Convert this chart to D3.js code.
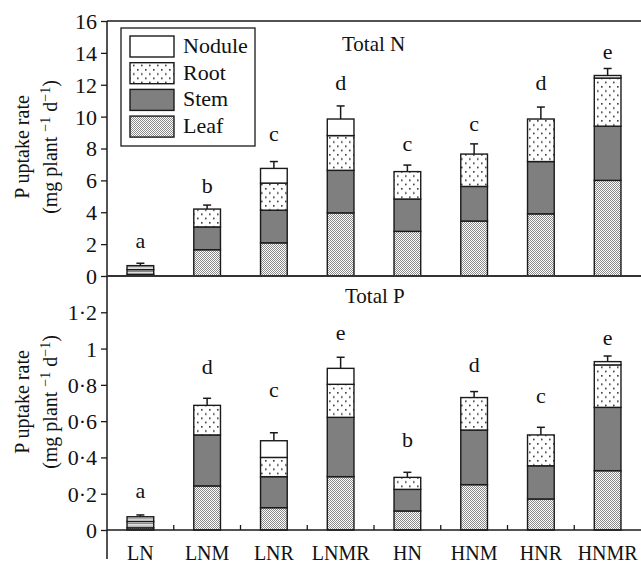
<!DOCTYPE html>
<html>
<head>
<meta charset="utf-8">
<script src="https://cdn.jsdelivr.net/npm/d3@7"></script>
<style>
  html, body { margin: 0; padding: 0; background: #fff; }
  svg { display: block; font-family: "Liberation Serif", "Times New Roman", serif; }
</style>
</head>
<body>
<svg id="chart" width="641" height="565"></svg>
<script>
// ---------------- data ----------------
const categories = ["LN", "LNM", "LNR", "LNMR", "HN", "HNM", "HNR", "HNMR"];
const parts = ["Leaf", "Stem", "Root", "Nodule"];
const legendOrder = ["Nodule", "Root", "Stem", "Leaf"];

// Total N uptake (mg plant-1 d-1)
const nLeaf   = [0.10, 1.65, 2.08, 3.96, 2.80, 3.45, 3.90, 6.00];
const nStem   = [0.30, 1.43, 2.05, 2.67, 2.03, 2.17, 3.28, 3.40];
const nRoot   = [0.25, 1.12, 1.70, 2.18, 1.72, 2.03, 2.67, 3.02];
const nNodule = [0.00, 0.00, 0.92, 1.04, 0.00, 0.00, 0.00, 0.16];
const nErrTop = [0.80, 4.45, 7.18, 10.67, 6.96, 8.29, 10.60, 13.02];
const nLetters = ["a", "b", "c", "d", "c", "c", "d", "e"];
const nLetterAt = [1.75, 5.2, 8.45, 11.65, 7.85, 9.1, 11.65, 13.6];

// Total P uptake (mg plant-1 d-1)
const pLeaf   = [0.012, 0.243, 0.123, 0.294, 0.105, 0.250, 0.171, 0.327];
const pStem   = [0.035, 0.281, 0.171, 0.327, 0.119, 0.301, 0.183, 0.349];
const pRoot   = [0.026, 0.163, 0.106, 0.182, 0.066, 0.179, 0.170, 0.234];
const pNodule = [0.000, 0.000, 0.092, 0.088, 0.000, 0.000, 0.000, 0.018];
const pErrTop = [0.083, 0.726, 0.536, 0.952, 0.318, 0.763, 0.566, 0.959];
const pLetters = ["a", "d", "c", "e", "b", "d", "c", "e"];
const pLetterAt = [0.175, 0.86, 0.731, 1.047, 0.459, 0.873, 0.698, 1.02];

const nTicks = [0, 2, 4, 6, 8, 10, 12, 14, 16];
const pTicks = [0, 0.2, 0.4, 0.6, 0.8, 1, 1.2];

// ---------------- layout ----------------
const svg = d3.select("#chart");
const left = 107, right = 641;
const topY = 21, midY = 276, botY = 530;

const x = d3.scaleBand().domain(categories).range([left, right])
  .paddingInner(0.6).paddingOuter(0.3);
const yN = d3.scaleLinear().domain([0, 16]).range([midY, topY]);
const yP = d3.scaleLinear().domain([0, 1.4]).range([botY, midY]);

// ---------------- patterns ----------------
const defs = svg.append("defs");
// leaf: fine checker
const pl = defs.append("pattern").attr("id", "leafPat").attr("patternUnits", "userSpaceOnUse")
  .attr("width", 2).attr("height", 2);
pl.append("rect").attr("width", 2).attr("height", 2).attr("fill", "#fff").attr("shape-rendering", "crispEdges");
pl.append("rect").attr("x", 0).attr("y", 0).attr("width", 1).attr("height", 1).attr("fill", "#8a8a8a").attr("shape-rendering", "crispEdges");
pl.append("rect").attr("x", 1).attr("y", 1).attr("width", 1).attr("height", 1).attr("fill", "#8a8a8a").attr("shape-rendering", "crispEdges");
// root: staggered dots
const pr = defs.append("pattern").attr("id", "rootPat").attr("patternUnits", "userSpaceOnUse")
  .attr("width", 8).attr("height", 8.5);
pr.append("rect").attr("width", 8).attr("height", 8.5).attr("fill", "#fff");
pr.append("rect").attr("x", 1).attr("y", 1).attr("width", 1.6).attr("height", 1.6).attr("fill", "#333");
pr.append("rect").attr("x", 5).attr("y", 5.25).attr("width", 1.6).attr("height", 1.6).attr("fill", "#333");
// stripes for tiny LN bars
const ps = defs.append("pattern").attr("id", "stripePat").attr("patternUnits", "userSpaceOnUse")
  .attr("width", 4).attr("height", 2.4);
ps.append("rect").attr("width", 4).attr("height", 2.4).attr("fill", "#fff");
ps.append("rect").attr("y", 0).attr("width", 4).attr("height", 1).attr("fill", "#777");

const fills = { Leaf: "url(#leafPat)", Stem: "#7f7f7f", Root: "url(#rootPat)", Nodule: "#fff" };
const stripedCats = ["LN"];

// ---------------- panels ----------------
function drawPanel(y, leaf, stem, root, nod, errTop, letters, letterAt) {
  const rows = categories.map((c, i) => ({ cat: c, Leaf: leaf[i], Stem: stem[i], Root: root[i], Nodule: nod[i] }));
  const series = d3.stack().keys(parts)(rows);
  const g = svg.append("g");
  series.forEach(s => {
    g.selectAll(null).data(s.filter(d => d[1] - d[0] > 0)).join("rect")
      .attr("x", d => x(d.data.cat))
      .attr("width", x.bandwidth())
      .attr("y", d => y(d[1]))
      .attr("height", d => y(d[0]) - y(d[1]))
      .attr("fill", d => (stripedCats.includes(d.data.cat) && s.key !== "Leaf") ? "url(#stripePat)" : fills[s.key])
      .attr("stroke", "#1a1a1a")
      .attr("stroke-width", 1.4);
  });
  // error bars
  const tot = categories.map((c, i) => leaf[i] + stem[i] + root[i] + nod[i]);
  const eg = svg.append("g").attr("stroke", "#1a1a1a").attr("stroke-width", 1.5);
  categories.forEach((c, i) => {
    const cx = x(c) + x.bandwidth() / 2;
    eg.append("line").attr("x1", cx).attr("x2", cx).attr("y1", y(tot[i])).attr("y2", y(errTop[i]));
    eg.append("line").attr("x1", cx - 4).attr("x2", cx + 4).attr("y1", y(errTop[i])).attr("y2", y(errTop[i]));
  });
  // letters
  svg.append("g").selectAll("text").data(categories).join("text")
    .attr("x", c => x(c) + x.bandwidth() / 2)
    .attr("y", (c, i) => y(letterAt[i]))
    .attr("text-anchor", "middle")
    .attr("font-size", 22)
    .attr("fill", "#111")
    .text((c, i) => letters[i]);
}

drawPanel(yN, nLeaf, nStem, nRoot, nNodule, nErrTop, nLetters, nLetterAt);
drawPanel(yP, pLeaf, pStem, pRoot, pNodule, pErrTop, pLetters, pLetterAt);

// ---------------- axes ----------------
const fmtP = d => d === 0 ? "0" : (d === 1 ? "1" : d3.format(".1f")(d).replace(".", "\u00b7"));

const axN = svg.append("g").attr("transform", `translate(${left},0)`)
  .call(d3.axisLeft(yN).tickValues(nTicks).tickSize(6).tickPadding(4).tickFormat(d3.format("d")));
const axP = svg.append("g").attr("transform", `translate(${left},0)`)
  .call(d3.axisLeft(yP).tickValues(pTicks).tickSize(6).tickPadding(4).tickFormat(fmtP));
[axN, axP].forEach(a => {
  a.select(".domain").remove();
  a.selectAll(".tick line").attr("stroke", "#1a1a1a").attr("stroke-width", 1.3);
  a.selectAll(".tick text").attr("font-size", 22).attr("font-family", "Liberation Serif").attr("fill", "#111")
    .attr("dy", "0.34em");
});

// category labels
const axX = svg.append("g").attr("transform", `translate(0,${botY})`)
  .call(d3.axisBottom(x).tickSize(0).tickPadding(0));
axX.select(".domain").remove();
axX.selectAll(".tick text").attr("font-size", 20).attr("font-family", "Liberation Serif")
  .attr("fill", "#111").attr("y", 30).attr("dy", 0);

// frame lines
const lg = svg.append("g").attr("stroke", "#1a1a1a");
lg.append("line").attr("x1", left).attr("x2", left).attr("y1", topY).attr("y2", 559).attr("stroke-width", 1.5);
lg.append("line").attr("x1", left).attr("x2", right).attr("y1", topY).attr("y2", topY).attr("stroke-width", 1.5);
lg.append("line").attr("x1", left).attr("x2", right).attr("y1", midY).attr("y2", midY).attr("stroke-width", 2).attr("stroke", "#333");
lg.append("line").attr("x1", left).attr("x2", right).attr("y1", botY).attr("y2", botY).attr("stroke-width", 1.5);
// separators on bottom axis
const step = x.step();
categories.slice(1).forEach(c => {
  const bx = x(c) - (step - x.bandwidth()) / 2;
  lg.append("line").attr("x1", bx).attr("x2", bx).attr("y1", botY).attr("y2", botY - 5).attr("stroke-width", 1.3);
});

// panel titles
svg.append("text").attr("x", 342).attr("y", 51).attr("font-size", 21).attr("fill", "#111").text("Total N");
svg.append("text").attr("x", 345).attr("y", 303).attr("font-size", 21).attr("fill", "#111").text("Total P");

// y titles
function yTitle(cy) {
  svg.append("text").attr("transform", `translate(29,${cy}) rotate(-90)`)
    .attr("text-anchor", "middle").attr("font-size", 20).attr("fill", "#111").text("P uptake rate");
  const t2 = svg.append("text").attr("transform", `translate(57,${cy}) rotate(-90)`)
    .attr("text-anchor", "middle").attr("font-size", 20).attr("fill", "#111");
  t2.append("tspan").text("(mg plant ");
  t2.append("tspan").attr("font-size", 14).attr("dy", -7).text("\u22121");
  t2.append("tspan").attr("dy", 7).text(" d");
  t2.append("tspan").attr("font-size", 14).attr("dy", -7).text("\u22121");
  t2.append("tspan").attr("dy", 7).text(")");
}
yTitle(147);
yTitle(402);

// ---------------- legend ----------------
const leg = svg.append("g");
leg.append("rect").attr("x", 121).attr("y", 28).attr("width", 134).attr("height", 118)
  .attr("fill", "#fff").attr("stroke", "#1a1a1a").attr("stroke-width", 1.3);
legendOrder.forEach((k, i) => {
  const yy = 36 + i * 26.7;
  leg.append("rect").attr("x", 130).attr("y", yy).attr("width", 44).attr("height", 21)
    .attr("fill", fills[k]).attr("stroke", "#1a1a1a").attr("stroke-width", 1.4);
  leg.append("text").attr("x", 183).attr("y", yy + 17).attr("font-size", 22).attr("fill", "#111").text(k);
});
</script>
</body>
</html>
